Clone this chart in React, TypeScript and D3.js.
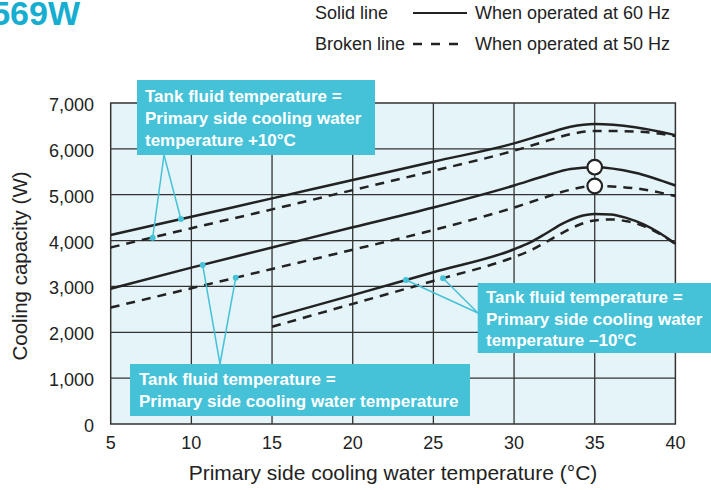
import React from "react";
import * as d3 from "d3";

const xTicks = [5, 10, 15, 20, 25, 30, 35, 40];
const yTicks = [0, 1000, 2000, 3000, 4000, 5000, 6000, 7000];

const tempPlus10 = [5, 10, 15, 20, 25, 30, 32, 33.5, 35, 37.5, 40];
const plus10At60 = [4120, 4520, 4920, 5320, 5720, 6120, 6330, 6480, 6540, 6470, 6300];
const plus10At50 = [3850, 4270, 4680, 5100, 5520, 5960, 6170, 6320, 6390, 6380, 6280];

const tempSame = [5, 10, 15, 20, 25, 30, 32, 33.5, 35, 37.5, 40];
const sameAt60 = [2950, 3410, 3850, 4290, 4720, 5200, 5420, 5560, 5600, 5480, 5200];
const sameAt50 = [2540, 2960, 3380, 3800, 4230, 4720, 4950, 5110, 5190, 5140, 4970];

const tempMinus10 = [15, 20, 25, 30, 31, 32, 33, 34, 35, 36, 37, 38, 39, 40];
const minus10At60 = [2320, 2810, 3310, 3810, 3960, 4160, 4370, 4520, 4580, 4570, 4490, 4360, 4170, 3930];
const minus10At50 = [2120, 2620, 3120, 3640, 3780, 3970, 4170, 4340, 4440, 4460, 4420, 4320, 4150, 3930];

const markerTemps = [35, 35];
const markerValues = [5600, 5190];

const legendLabels = ["Solid line", "Broken line"];
const legendTexts = ["When operated at 60 Hz", "When operated at 50 Hz"];

const callout1 = ["Tank fluid temperature =", "Primary side cooling water", "temperature +10°C"];
const callout2 = ["Tank fluid temperature =", "Primary side cooling water temperature"];
const callout3 = ["Tank fluid temperature =", "Primary side cooling water", "temperature \u201310°C"];

// pointer targets: [temperature, capacity]
const pointers1 = [[7.6, 4060], [9.35, 4470]];
const pointers2 = [[10.7, 3470], [12.75, 3190]];
const pointers3 = [[23.3, 3140], [25.6, 3180]];

const W = 711;
const H = 490;
const L = 110.7, R = 675.4, T = 103, B = 424;
const CYAN = "#45c2d8";
const FONT = "'Liberation Sans', Arial, Helvetica, sans-serif";

export default function App() {
  const x = d3.scaleLinear().domain([5, 40]).range([L, R]);
  const y = d3.scaleLinear().domain([0, 7000]).range([B, T]);
  const line = d3
    .line<[number, number]>()
    .x((d) => x(d[0]))
    .y((d) => y(d[1]))
    .curve(d3.curveMonotoneX);
  const zip = (xs: number[], ys: number[]) => xs.map((v, i) => [v, ys[i]] as [number, number]);

  const series = [
    { d: zip(tempPlus10, plus10At60), dash: false },
    { d: zip(tempPlus10, plus10At50), dash: true },
    { d: zip(tempSame, sameAt60), dash: false },
    { d: zip(tempSame, sameAt50), dash: true },
    { d: zip(tempMinus10, minus10At60), dash: false },
    { d: zip(tempMinus10, minus10At50), dash: true },
  ];

  const callouts = [
    { lines: callout1, box: [137, 80, 238, 75], tx: 145, ty: 102, lh: 22, anchor: [164, 155], pts: pointers1 },
    { lines: callout2, box: [130, 364, 340, 52], tx: 139, ty: 385, lh: 22, anchor: [220, 364], pts: pointers2 },
    { lines: callout3, box: [477.7, 283, 240, 70], tx: 486, ty: 303, lh: 21.5, anchor: [478, 313], pts: pointers3 },
  ];

  return (
    <svg width={W} height={H} style={{ position: "absolute", left: 0, top: 0 }} fontFamily={FONT}>
      <rect x={0} y={0} width={W} height={H} fill="#ffffff" />
      {/* title fragment (cut at the left edge as in the source) */}
      <text x={80} y={25} textAnchor="end" fontSize={34} fontWeight="bold" fill="#16aed0">569W</text>

      {/* legend */}
      <text x={315} y={19} fontSize={18} fill="#222">{legendLabels[0]}</text>
      <line x1={413} x2={467} y1={13} y2={13} stroke="#222" strokeWidth={2.2} />
      <text x={475} y={19} fontSize={18} fill="#222">{legendTexts[0]}</text>
      <text x={315} y={50} fontSize={18} fill="#222">{legendLabels[1]}</text>
      <line x1={413} x2={467} y1={44} y2={44} stroke="#222" strokeWidth={2.5} strokeDasharray="9,9" />
      <text x={475} y={50} fontSize={18} fill="#222">{legendTexts[1]}</text>

      {/* plot background */}
      <rect x={L} y={T} width={R - L} height={B - T} fill="#e5f4f8" />
      {xTicks.slice(1, -1).map((t) => (
        <line key={"gx" + t} x1={x(t)} x2={x(t)} y1={T} y2={B} stroke="#333" strokeWidth={1.3} />
      ))}
      {yTicks.slice(1, -1).map((t) => (
        <line key={"gy" + t} x1={L} x2={R} y1={y(t)} y2={y(t)} stroke="#333" strokeWidth={1.3} />
      ))}
      <rect x={L} y={T} width={R - L} height={B - T} fill="none" stroke="#333" strokeWidth={1.5} />

      {/* tick labels */}
      {yTicks.map((t) => (
        <text key={"yt" + t} x={94} y={y(t) + 8} textAnchor="end" fontSize={18} fill="#222">
          {d3.format(",")(t)}
        </text>
      ))}
      {xTicks.map((t) => (
        <text key={"xt" + t} x={x(t)} y={448.5} textAnchor="middle" fontSize={18} fill="#222">
          {t}
        </text>
      ))}
      <text x={393} y={480} textAnchor="middle" fontSize={21} fill="#222">
        Primary side cooling water temperature (°C)
      </text>
      <text
        transform={`translate(27,266) rotate(-90)`}
        textAnchor="middle"
        fontSize={20.5}
        fill="#222"
      >
        Cooling capacity (W)
      </text>

      {/* curves */}
      {series.map((s, i) => (
        <path
          key={"s" + i}
          d={line(s.d) || ""}
          fill="none"
          stroke="#222"
          strokeWidth={2.5}
          strokeDasharray={s.dash ? "9,7" : undefined}
        />
      ))}
      {markerTemps.map((t, i) => (
        <circle key={"m" + i} cx={x(t)} cy={y(markerValues[i])} r={7.3} fill="#fff" stroke="#222" strokeWidth={2.2} />
      ))}

      {/* callouts */}
      {callouts.map((c, i) => (
        <g key={"c" + i}>
          {c.pts.map((p, j) => (
            <g key={j}>
              <line x1={c.anchor[0]} y1={c.anchor[1]} x2={x(p[0])} y2={y(p[1])} stroke={CYAN} strokeWidth={1.5} />
              <circle cx={x(p[0])} cy={y(p[1])} r={3} fill={CYAN} />
            </g>
          ))}
          <rect x={c.box[0]} y={c.box[1]} width={c.box[2]} height={c.box[3]} fill={CYAN} />
          {c.lines.map((ln, j) => (
            <text key={j} x={c.tx} y={c.ty + j * c.lh} fontSize={17} fontWeight="bold" fill="#fff">
              {ln}
            </text>
          ))}
        </g>
      ))}
    </svg>
  );
}
